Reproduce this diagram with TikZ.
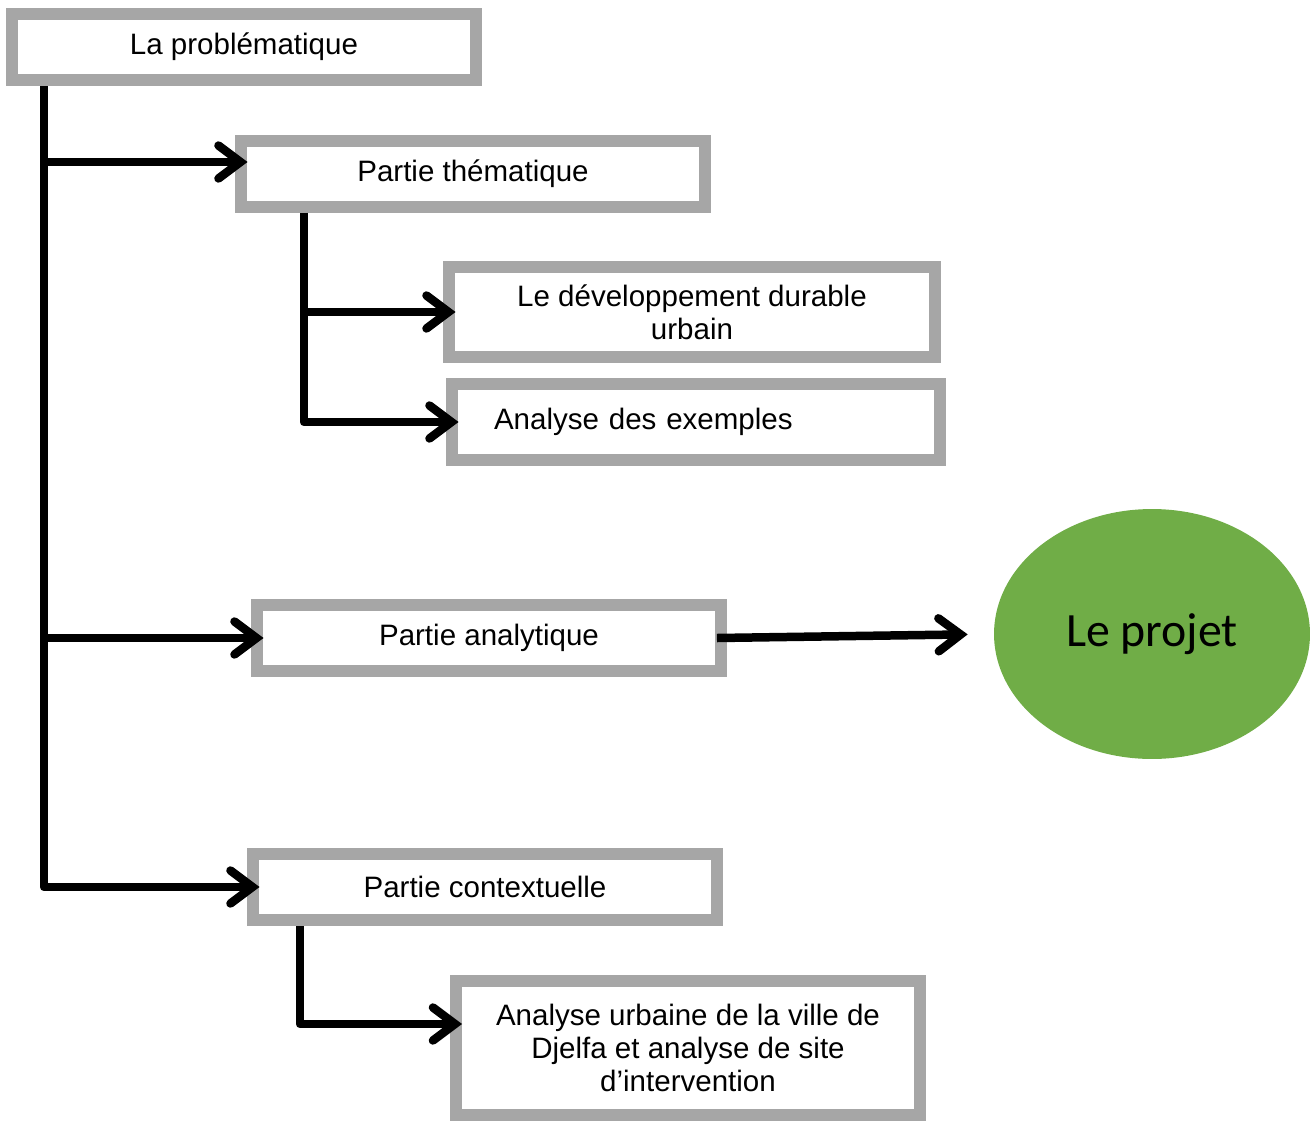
\documentclass[tikz,border=0pt]{standalone}
\usepackage{fontspec}
\setmainfont{Liberation Sans}
\newfontfamily\projetfont{Carlito}
\usetikzlibrary{arrows.meta,shapes.geometric}
\definecolor{boxgray}{HTML}{A6A6A6}
\definecolor{projetgreen}{HTML}{70AD47}

\begin{document}
\begin{tikzpicture}[x=0.02cm,y=-0.02cm,
  partie/.style={draw=boxgray,line width=0.24cm,fill=white,minimum width=9.28cm,
    minimum height=1.32cm,inner sep=0pt,align=center,font=\fontsize{16.8}{18.8}\selectfont},
  fleche/.style={line width=0.17cm,line join=round,shorten >=-0.25cm,
    -{Straight Barb[length=0.44cm,width=0.66cm,line cap=round]}}]
\useasboundingbox (0,0) rectangle (1314,1122);
% BOXES
\node [partie] (prob) at (244,47) {La probl\'ematique};
\node [partie] (them) at (473,174) {Partie th\'ematique};
\node [partie,minimum width=9.72cm,minimum height=1.82cm] (dev) at (692,312)
  {Le d\'eveloppement durable\\urbain};
\node [partie,minimum width=9.76cm,minimum height=1.54cm,text width=8.08cm,align=left]
  (ex) at (696,422) {Analyse des exemples};
\node [partie] (ana) at (489,638) {Partie analytique};
\node [partie] (ctx) at (485,887) {Partie contextuelle};
\node [partie,minimum width=9.3cm,minimum height=2.68cm] (urb) at (688,1048)
  {Analyse urbaine de la ville de\\Djelfa et analyse de site\\d'intervention};
% THE PROJECT
\node [ellipse,fill=projetgreen,minimum width=6.32cm,minimum height=5cm,inner sep=0pt,
  font=\projetfont\fontsize{27.2}{32}\selectfont] (pj) at (1152,634) {Le projet};
% MAIN TRUNK
\coordinate (b1) at (44,162);
\draw [fleche] ([xshift=0.76cm]prob.south west) |- (ctx.west);
\draw [fleche] (b1) -- (b1 -| them.west);
\draw [fleche] (ana.west -| b1) -- (ana.west);
% THEMATIC BRANCH
\draw [fleche] ([xshift=1.38cm]them.south west) |- (ex.west);
\draw [fleche] (dev.west -| 304,0) -- (dev.west);
% CONTEXTUAL BRANCH
\draw [fleche] ([xshift=1.06cm]ctx.south west) -- ++(0,98) coordinate (c1) -- (c1 -| urb.west);
% TO THE PROJECT
\draw [fleche,shorten >=0.52cm] ([xshift=-0.2cm]ana.east) -- (pj.west);
\end{tikzpicture}
\end{document}
